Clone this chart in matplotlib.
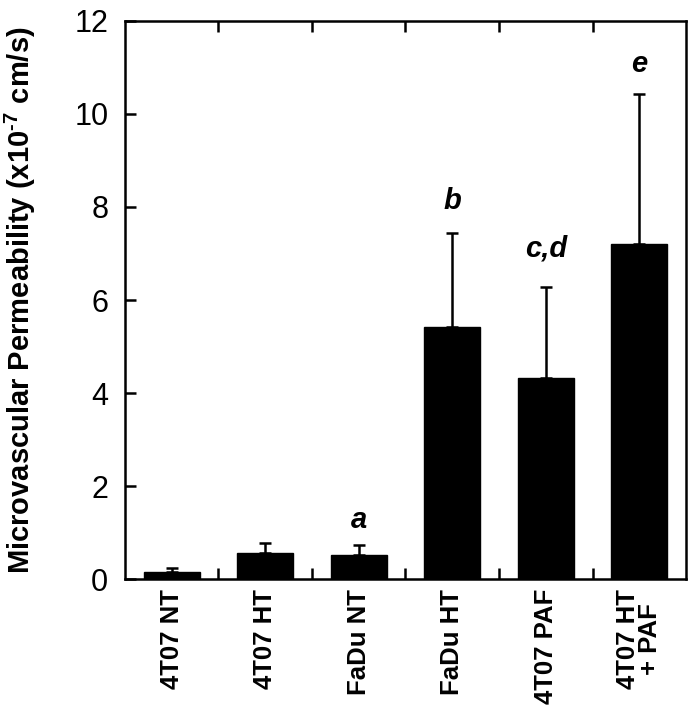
import matplotlib.pyplot as plt
import numpy as np

plt.rcParams["font.family"] = ["Liberation Sans", "DejaVu Sans"]
plt.rcParams["mathtext.fontset"] = "custom"
plt.rcParams["mathtext.rm"] = "Liberation Sans:bold"
plt.rcParams["mathtext.bf"] = "Liberation Sans:bold"

# 数据
groups = ["4T07 NT", "4T07 HT", "FaDu NT", "FaDu HT", "4T07 PAF", "4T07 HT\n+ PAF"]
means = [0.16, 0.55, 0.51, 5.41, 4.33, 7.20]
errs = [0.07, 0.23, 0.22, 2.04, 1.96, 3.24]
letters = ["", "", "a", "b", "c,d", "e"]
letter_y = [0, 0, 1.27, 8.12, 7.1, 11.07]

fig = plt.figure(figsize=(6.94, 7.16), dpi=100)
ax = fig.add_axes([0.180, 0.1913, 0.8085, 0.7794])

x = np.arange(len(groups))
ax.bar(x, means, width=0.6, color="black", edgecolor="black", zorder=2)
ax.errorbar(x, means, yerr=[np.zeros(len(errs)), errs], fmt="none",
            ecolor="black", elinewidth=1.8, capsize=4, capthick=1.8, zorder=1)

for xi, txt, ty in zip(x, letters, letter_y):
    if txt:
        ax.text(xi, ty, txt, ha="center", va="center", fontsize=21,
                fontweight="bold", fontstyle="italic")

ax.set_xlim(-0.5, len(groups) - 0.5)
ax.set_ylim(0, 12)
ax.set_yticks([0, 2, 4, 6, 8, 10, 12])

# 类别标签放在柱子中心，刻度线放在柱子之间
ax.set_xticks(x)
ax.set_xticklabels(groups, rotation=90, fontsize=18.5, fontweight="bold",
                   ha="center", va="top", multialignment="center", linespacing=0.9)
ax.tick_params(axis="x", which="major", length=0, pad=7)
ax.set_xticks(np.arange(0.5, len(groups) - 0.5, 1), minor=True)
ax.tick_params(axis="x", which="minor", direction="in", length=8, width=1.8,
               top=True, bottom=True)
ax.tick_params(axis="y", direction="in", length=8, width=1.8, labelsize=22, pad=12)

ax.set_ylabel("Microvascular Permeability (x10$^{\\text{-7}}$ cm/s)",
              fontsize=21, fontweight="bold")
ax.yaxis.set_label_coords(-0.155, 0.5)

for s in ax.spines.values():
    s.set_linewidth(1.8)

fig.savefig("out.png", dpi=100)
